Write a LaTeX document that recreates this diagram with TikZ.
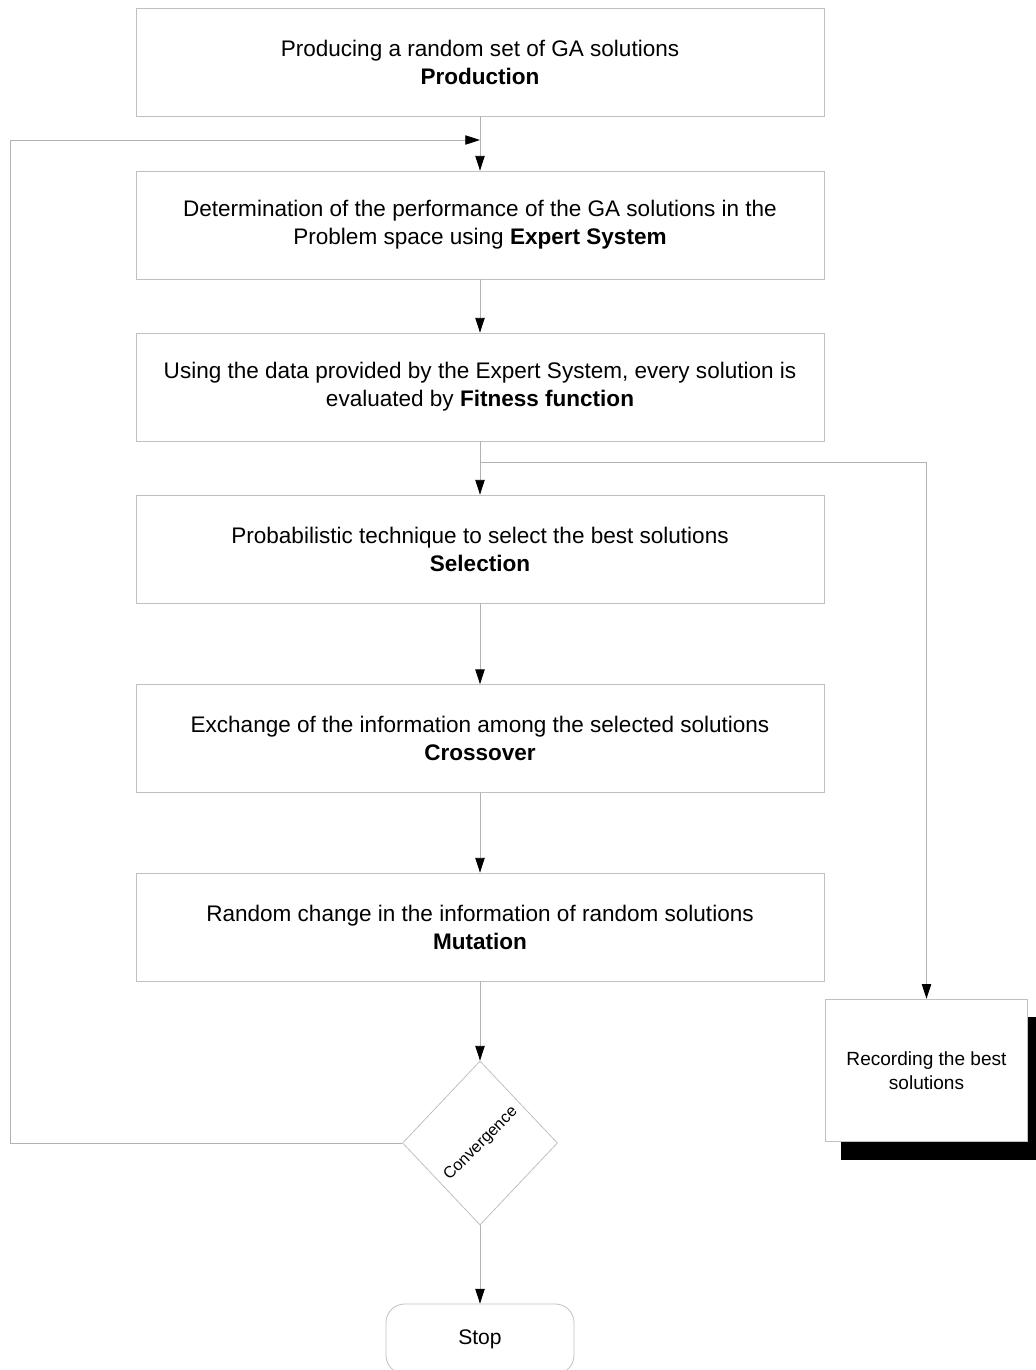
\documentclass[tikz,border=0pt]{standalone}
\usepackage{fontspec}
\setmainfont{Liberation Sans}
\usetikzlibrary{arrows.meta,shapes.geometric,shadows}
\definecolor{linegray}{RGB}{178,178,178}
\definecolor{framegray}{RGB}{192,192,192}
\begin{document}
\begin{tikzpicture}[x=0.75pt,y=-0.75pt,
  stepbox/.style={draw=framegray, line width=0.6pt, minimum width=516pt, minimum height=81pt,
    align=center, inner sep=0pt, font=\fontsize{16.9}{21}\selectfont},
  flow/.style={draw=linegray, line width=0.6pt, -{Triangle[length=11pt,width=7pt,black]}},
  plain/.style={draw=linegray, line width=0.6pt}]
\useasboundingbox (0,0) rectangle (1035,1370);

% main sequence of steps
\node[stepbox] (prod) at (480,62) {Producing a random set of GA solutions\\\textbf{Production}};
\node[stepbox] (expert) at (480,225) {Determination of the performance of the GA solutions in the\\Problem space using \textbf{Expert System}};
\node[stepbox] (fit) at (480,387) {Using the data provided by the Expert System, every solution is\\evaluated by \textbf{Fitness function}};
\node[stepbox] (sel) at (480,549) {Probabilistic technique to select the best solutions\\\textbf{Selection}};
\node[stepbox] (cross) at (480,738.5) {Exchange of the information among the selected solutions\\\textbf{Crossover}};
\node[stepbox] (mut) at (480,927) {Random change in the information of random solutions\\\textbf{Mutation}};

% decision, label set diagonally inside
\node[diamond, draw=framegray, line width=0.6pt, minimum width=116.25pt, minimum height=123pt, inner sep=0pt,
  label={[rotate=45, font=\fontsize{12.2}{14}\selectfont, yshift=-1pt]center:Convergence}] (conv) at (480,1143) {};

% terminal
\node[draw=framegray, line width=0.6pt, rounded corners=14pt, minimum width=141pt, minimum height=52.5pt, inner sep=0pt,
  font=\fontsize{15.8}{18}\selectfont] (stop) at (480,1339) {Stop};

% archive of best solutions
\node[draw=framegray, line width=0.6pt, fill=white, minimum width=152pt, minimum height=107pt, align=center, inner sep=0pt,
  font=\fontsize{14.3}{18}\selectfont,
  drop shadow={shadow xshift=12pt, shadow yshift=-13.5pt, fill=black, opacity=1}] (rec) at (926.5,1070.5) {Recording the best\\solutions};

% connectors
\coordinate (join) at (480,140);
\coordinate (loopbot) at (10,1143);
\coordinate (looptop) at (10,140);
\coordinate (split) at (480,462);

\draw[plain] (prod.south) -- (join);
\draw[flow] (join) -- (expert.north);
\draw[flow] (conv.west) -- (loopbot) -- (looptop) -- (join);
\draw[flow] (expert.south) -- (fit.north);
\draw[flow] (fit.south) -- (sel.north);
\draw[flow] (split) -| (rec.north);
\draw[flow] (sel.south) -- (cross.north);
\draw[flow] (cross.south) -- (mut.north);
\draw[flow] (mut.south) -- (conv.north);
\draw[flow] (conv.south) -- (stop.north);
\end{tikzpicture}
\end{document}
